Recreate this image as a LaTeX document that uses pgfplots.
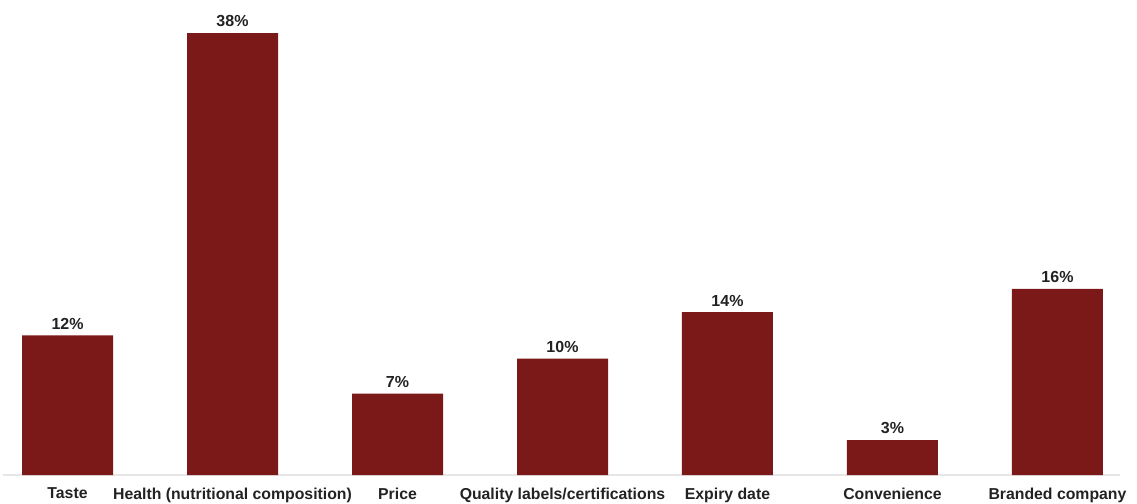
\documentclass[border=0pt]{standalone}
\usepackage{fontspec}
\setmainfont{Liberation Sans}
\usepackage{pgfplots}
\pgfplotsset{compat=1.18}
\definecolor{barred}{HTML}{7B1818}
\definecolor{txt}{HTML}{222222}
\definecolor{axisgray}{HTML}{E6E6E6}
\begin{document}
\begin{tikzpicture}
\begin{axis}[
  at={(0,0)}, anchor=south west,
  scale only axis,
  width=1117pt, height=475pt,
  xmin=-0.391, xmax=6.379,
  ymin=0, ymax=40.84,
  axis x line*=bottom,
  axis y line=none,
  x axis line style={draw=axisgray, line width=1.5pt, -},
  xtick=data,
  xticklabels={Taste, Health (nutritional composition), Price, Quality labels/certifications, Expiry date, Convenience, Branded company},
  xtick style={draw=none},
  xticklabel style={font=\fontsize{15.8}{17}\selectfont\bfseries, text=txt, yshift=-5pt},
  ybar, bar width=91pt,
  /pgf/number format/assume math mode=true,
  nodes near coords={\pgfmathprintnumber{\pgfplotspointmeta}\%},
  nodes near coords style={font=\fontsize{16}{18}\selectfont\bfseries, text=txt, anchor=south, yshift=2.5pt},
  point meta=explicit,
  clip=false,
]
\addplot[fill=barred, draw=none] coordinates {
  (0,12) [12] (1,38) [38] (2,7) [7] (3,10) [10] (4,14) [14] (5,3) [3] (6,16) [16]
};
\end{axis}
\pgfresetboundingbox
\path[use as bounding box] (-3pt,-28pt) rectangle (1134pt,475pt);
\end{tikzpicture}
\end{document}
